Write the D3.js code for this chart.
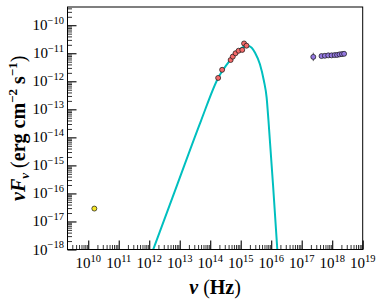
<!DOCTYPE html>
<html>
<head>
<meta charset="utf-8">
<script src="https://cdn.jsdelivr.net/npm/d3@7"></script>
<style>
  body { margin: 0; background: #fff; }
  text { font-family: "Liberation Serif", "DejaVu Serif", serif; }
</style>
</head>
<body>
<div id="chart"></div>
<script>
// values, as log10(nu / Hz) and log10(nuF_nu / erg cm^-2 s^-1)
const radioLogNu = [10.20];
const radioLogF = [-16.54];

const optLogNu = [14.26, 14.39, 14.67, 14.74, 14.83, 14.93, 15.05, 15.11, 15.19];
const optLogF = [-11.88, -11.59, -11.24, -11.12, -11.00, -10.91, -10.88, -10.65, -10.73];

const xrayLogNu = [17.38, 17.65, 17.76, 17.87, 17.98, 18.08, 18.16, 18.24, 18.32, 18.39];
const xrayLogF = [-11.13, -11.10, -11.09, -11.075, -11.075, -11.065, -11.06, -11.04, -11.03, -11.02];
const xrayErr = [0.15, 0.03, 0.03, 0.03, 0.03, 0.03, 0.04, 0.04, 0.05, 0.05];

const modelLogNu = [12.13, 12.91, 13.70, 14.26, 14.65, 14.97, 15.12, 15.24, 15.36, 15.47, 15.63, 15.76, 15.85, 15.91, 16.06, 16.20];
const modelLogF = [-18.0, -15.71, -13.40, -11.88, -11.25, -10.86, -10.77, -10.74, -10.80, -10.98, -11.39, -11.98, -12.58, -13.40, -15.70, -18.0];

// tick labels (exponents)
const xTickExp = [10, 11, 12, 13, 14, 15, 16, 17, 18, 19];
const yTickExp = [-18, -17, -16, -15, -14, -13, -12, -11, -10];

const W = 382, H = 307;
const pL = 67.5, pR = 362.7, pT = 7, pB = 249.5;

const svg = d3.select("#chart").append("svg")
    .attr("width", W)
    .attr("height", H);

const x = d3.scaleLog().domain([Math.pow(10, 9.32), 1e19]).range([pL, pR]);
const y = d3.scaleLog().domain([1e-18, Math.pow(10, -9.35)]).range([pB, pT]);

// minor ticks 2..9 in each decade
const minor = (lo, hi) => {
  const out = [];
  for (let e = lo; e < hi; e++) for (let m = 2; m <= 9; m++) out.push(m * Math.pow(10, e));
  return out;
};
const xMinor = minor(9, 19).filter(v => v >= x.domain()[0] && v <= x.domain()[1]);
const yMinor = minor(-18, -9).filter(v => v >= y.domain()[0] && v <= y.domain()[1]);

// bottom axis, ticks pointing inwards
svg.append("g")
    .attr("transform", `translate(0,${pB})`)
    .call(d3.axisBottom(x).tickValues(xTickExp.map(e => Math.pow(10, e))).tickSize(-9).tickSizeOuter(0).tickFormat(""))
    .call(g => g.select(".domain").remove())
    .call(g => g.selectAll("line").attr("stroke", "#000").attr("stroke-width", 1.1));
svg.append("g")
    .attr("transform", `translate(0,${pB})`)
    .call(d3.axisBottom(x).tickValues(xMinor).tickSize(-4.5).tickSizeOuter(0).tickFormat(""))
    .call(g => g.select(".domain").remove())
    .call(g => g.selectAll("line").attr("stroke", "#000").attr("stroke-width", 0.8));

// left axis
svg.append("g")
    .attr("transform", `translate(${pL},0)`)
    .call(d3.axisLeft(y).tickValues(yTickExp.map(e => Math.pow(10, e))).tickSize(-9).tickSizeOuter(0).tickFormat(""))
    .call(g => g.select(".domain").remove())
    .call(g => g.selectAll("line").attr("stroke", "#000").attr("stroke-width", 1.1));
svg.append("g")
    .attr("transform", `translate(${pL},0)`)
    .call(d3.axisLeft(y).tickValues(yMinor).tickSize(-4.5).tickSizeOuter(0).tickFormat(""))
    .call(g => g.select(".domain").remove())
    .call(g => g.selectAll("line").attr("stroke", "#000").attr("stroke-width", 0.8));

// tick labels with superscripts
const xl = svg.append("g").selectAll("text")
    .data(xTickExp)
    .join("text")
    .attr("x", d => x(Math.pow(10, d)))
    .attr("y", 268)
    .attr("text-anchor", "middle")
    .attr("font-size", 15);
xl.append("tspan").text("10");
xl.append("tspan").attr("dy", -6.5).attr("font-size", 10.5).text(d => d);

const yl = svg.append("g").selectAll("text")
    .data(yTickExp)
    .join("text")
    .attr("x", 64)
    .attr("y", d => y(Math.pow(10, d)) + 5)
    .attr("text-anchor", "end")
    .attr("font-size", 15);
yl.append("tspan").text("10");
yl.append("tspan").attr("dy", -6.5).attr("font-size", 10.5).text(d => "\u2212" + Math.abs(d));

// clip to plot area
svg.append("clipPath").attr("id", "clip")
  .append("rect")
    .attr("x", pL).attr("y", pT)
    .attr("width", pR - pL).attr("height", pB - pT);

const plot = svg.append("g").attr("clip-path", "url(#clip)");

// model curve
const model = modelLogNu.map((v, i) => [Math.pow(10, v), Math.pow(10, modelLogF[i])]);
plot.append("path")
    .datum(model)
    .attr("fill", "none")
    .attr("stroke", "#00bfbf")
    .attr("stroke-width", 2)
    .attr("d", d3.line().x(d => x(d[0])).y(d => y(d[1])).curve(d3.curveMonotoneX));

// x-ray error bars
const xray = xrayLogNu.map((v, i) => ({nu: Math.pow(10, v), lf: xrayLogF[i], err: xrayErr[i]}));
plot.selectAll("line.err")
    .data(xray)
    .join("line")
    .attr("class", "err")
    .attr("x1", d => x(d.nu)).attr("x2", d => x(d.nu))
    .attr("y1", d => y(Math.pow(10, d.lf - d.err)))
    .attr("y2", d => y(Math.pow(10, d.lf + d.err)))
    .attr("stroke", "#333")
    .attr("stroke-width", 0.8);

// markers
const drawPoints = (nus, fs, fill) => {
  plot.append("g").selectAll("circle")
      .data(nus.map((v, i) => [Math.pow(10, v), Math.pow(10, fs[i])]))
      .join("circle")
      .attr("cx", d => x(d[0]))
      .attr("cy", d => y(d[1]))
      .attr("r", 2.5)
      .attr("fill", fill)
      .attr("stroke", "#111")
      .attr("stroke-width", 0.7);
};
drawPoints(radioLogNu, radioLogF, "#f6e627");
drawPoints(optLogNu, optLogF, "#f46a6a");
drawPoints(xrayLogNu, xrayLogF, "#9479e0");

// frame
svg.append("rect")
    .attr("x", pL).attr("y", pT)
    .attr("width", pR - pL).attr("height", pB - pT)
    .attr("fill", "none")
    .attr("stroke", "#000")
    .attr("stroke-width", 1);

// axis labels
svg.append("text")
    .attr("x", (pL + pR) / 2)
    .attr("y", 294)
    .attr("text-anchor", "middle")
    .attr("font-size", 20)
    .call(t => {
      t.append("tspan").attr("font-weight", "bold").attr("font-style", "italic").text("\u03bd");
      t.append("tspan").text(" (");
      t.append("tspan").attr("font-weight", "bold").text("Hz");
      t.append("tspan").text(")");
    });

svg.append("text")
    .attr("transform", `translate(25,${(pT + pB) / 2}) rotate(-90)`)
    .attr("text-anchor", "middle")
    .attr("font-size", 20)
    .call(t => {
      t.append("tspan").attr("font-weight", "bold").attr("font-style", "italic").text("\u03bdF");
      t.append("tspan").attr("font-weight", "bold").attr("font-style", "italic").attr("font-size", 13).attr("dy", 4).text("\u03bd");
      t.append("tspan").attr("dy", -4).text(" (");
      t.append("tspan").attr("font-weight", "bold").text("erg cm");
      t.append("tspan").attr("font-weight", "bold").attr("font-size", 13).attr("dy", -8).text("\u22122");
      t.append("tspan").attr("font-weight", "bold").attr("dy", 8).text(" s");
      t.append("tspan").attr("font-weight", "bold").attr("font-size", 13).attr("dy", -8).text("\u22121");
      t.append("tspan").attr("dy", 8).text(")");
    });
</script>
</body>
</html>
